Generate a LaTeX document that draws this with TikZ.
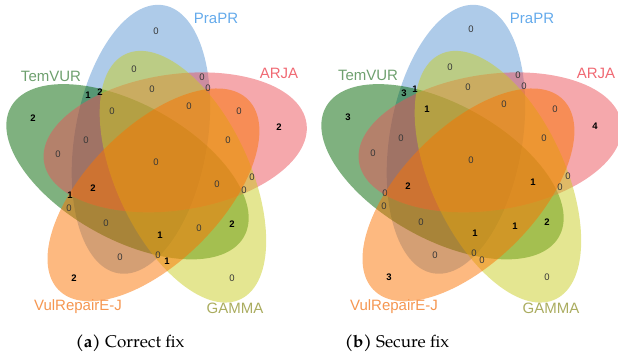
\documentclass[tikz,border=0pt]{standalone}
\usepackage{fontspec}
\setmainfont{Liberation Sans}
\newfontfamily\capfont{TeX Gyre Pagella}
\definecolor{cB}{RGB}{93,151,211}
\definecolor{cG}{RGB}{0,100,0}
\definecolor{cP}{RGB}{235,81,89}
\definecolor{cY}{RGB}{201,205,35}
\definecolor{cO}{RGB}{251,115,1}
\definecolor{tB}{RGB}{100,170,235}
\definecolor{tG}{RGB}{110,160,110}
\definecolor{tP}{RGB}{240,105,115}
\definecolor{tO}{RGB}{245,150,80}
\definecolor{tY}{RGB}{170,172,95}
\definecolor{numgray}{RGB}{55,55,55}
\begin{document}
\begin{tikzpicture}[x=1pt,y=1pt,
  setfill/.style={fill=#1, fill opacity=0.5},
  setlabel/.style={text=#1, font=\fontsize{15}{18}\selectfont, inner sep=0pt},
  zeronum/.style={text=numgray, font=\fontsize{9.5}{11}\selectfont, inner sep=0pt},
  posnum/.style={text=black, font=\fontsize{9.5}{11}\selectfont\bfseries, inner sep=0pt},
  numstyle/.code={\ifnum#1=0 \pgfkeysalso{zeronum}\else\pgfkeysalso{posnum}\fi},
  captext/.style={font=\capfont\fontsize{17}{20}\selectfont, inner sep=0pt}]

\useasboundingbox (0,0) rectangle (618,358);

% ellipses, left and right panels
\foreach \ox in {0,315} {
\begin{scope}[shift={({156+\ox},193)}, xscale=0.975]
  \fill[setfill=cB, rotate around={80:(121:30)}] (121:30) ellipse [x radius=136, y radius=68];
  \fill[setfill=cG, rotate around={152:(193:30)}] (193:30) ellipse [x radius=136, y radius=68];
  \fill[setfill=cP, rotate around={8:(49:30)}] (49:30) ellipse [x radius=136, y radius=68];
  \fill[setfill=cY, rotate around={296:(337:30)}] (337:30) ellipse [x radius=136, y radius=68];
  \fill[setfill=cO, rotate around={224:(265:30)}] (265:30) ellipse [x radius=136, y radius=68];
\end{scope}
}

% set labels, left
\node[setlabel=tB] (praL) at (216,340) {PraPR};
\node[setlabel=tG] (temL) at (51,282) {TemVUR};
\node[setlabel=tP] (arjL) at (279,285) {ARJA};
\node[setlabel=tO] (vulL) at (78,51) {VulRepairE-J};
\node[setlabel=tY] (gamL) at (235,50) {GAMMA};
% set labels, right
\node[setlabel=tB] (praR) at (532,340) {PraPR};
\node[setlabel=tG] (temR) at (368,283) {TemVUR};
\node[setlabel=tP] (arjR) at (596,285) {ARJA};
\node[setlabel=tO] (vulR) at (394,51) {VulRepairE-J};
\node[setlabel=tY] (gamR) at (551,50) {GAMMA};

% region counts, left (Correct fix)
\foreach \x/\y/\v [count=\i] in {
 156/31/0, 134/69/0, 202/77/0, 88/95/1, 100/92/2, 152/89/0, 208/88/0,
 33/118/2, 112/111/0, 189/106/0, 239/111/0, 279/127/2, 86/140/0, 228/140/0,
 58/154/0, 156/162/0, 93/188/2, 70/195/1, 69/208/0, 217/184/0, 252/177/0,
 244/190/0, 106/223/0, 160/235/1, 199/228/0, 232/224/2, 120/257/0,
 158/255/0, 167/261/1, 74/278/2, 232/278/0}
  \node[numstyle=\v] (nL\i) at (\x,{358-\y}) {\v};

% region counts, right (Secure fix)
\foreach \x/\y/\v [count=\i] in {
 471/29/0, 450/67/0, 518/75/0, 404/93/3, 415/89/1, 468/87/0, 524/86/0,
 348/117/3, 427/109/1, 504/104/0, 555/109/0, 595/126/4, 401/138/0, 544/138/0,
 373/153/0, 471/160/0, 408/186/2, 385/193/0, 384/206/0, 533/182/1, 568/176/0,
 560/187/0, 421/222/0, 475/233/1, 515/226/1, 547/222/2, 435/255/0,
 474/253/0, 482/260/0, 389/277/3, 547/277/0}
  \node[numstyle=\v] (nR\i) at (\x,{358-\y}) {\v};

% captions
\node[captext] (capA) at (130,15) {\textbf{(a)} Correct fix};
\node[captext] (capB) at (397,15) {\textbf{(b)} Secure fix};
\end{tikzpicture}
\end{document}
